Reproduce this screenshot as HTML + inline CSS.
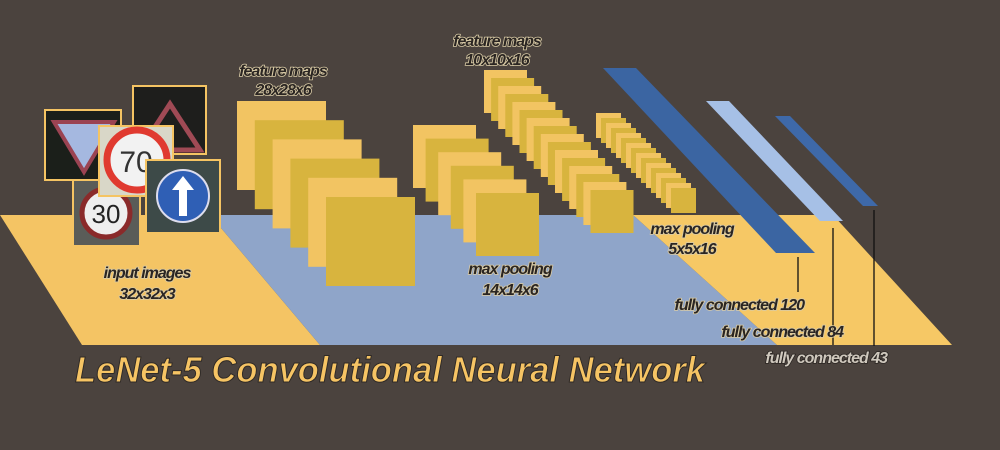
<!DOCTYPE html>
<html><head><meta charset="utf-8"><style>
html,body{margin:0;padding:0;background:#4b433e;}
svg{display:block}
.lbl{font-family:"Liberation Sans",sans-serif;font-style:italic;font-weight:bold;font-size:16px;fill:#2a2522;stroke:#d9cba6;stroke-width:1.6px;paint-order:stroke;letter-spacing:-1px}
</style></head><body>
<svg width="1000" height="450" viewBox="0 0 1000 450">
<rect width="1000" height="450" fill="#4b433e"/>
<polygon points="0,215 210,215 320,345 82,345" fill="#f4c464"/>
<polygon points="210,215 633,215 777,345 320,345" fill="#8fa5c9"/>
<polygon points="633,215 833,215 952,345 777,345" fill="#f6c865"/>
<g id="layers"></g>
<g>
 <g><rect x="133" y="86" width="73" height="68" fill="#1e1e1c" stroke="#f5c463" stroke-width="2"/><polygon points="170,104 200,150 140,150" fill="none" stroke="#a04a55" stroke-width="5"/></g>
 <g><rect x="45" y="110" width="76" height="70" fill="#1b1f1a" stroke="#f5c463" stroke-width="2"/><polygon points="54,122 114,122 84,172" fill="#a5b8e0" stroke="#9b4352" stroke-width="4"/></g>
 <g><rect x="73" y="180" width="67" height="66" fill="#5a5c58" stroke="#f5c463" stroke-width="2"/><circle cx="106" cy="213" r="24" fill="#eee" stroke="#8a2a2a" stroke-width="5"/><text x="106" y="223" font-family="Liberation Sans,sans-serif" font-size="26" text-anchor="middle" fill="#222">30</text></g>
 <g><rect x="99" y="126" width="74" height="70" fill="#d9d7c8" stroke="#f5c463" stroke-width="2"/><circle cx="137" cy="160" r="30" fill="#f2f2f2" stroke="#e03a30" stroke-width="7"/><text x="136" y="172" font-family="Liberation Sans,sans-serif" font-size="30" text-anchor="middle" fill="#333">70</text></g>
 <g><rect x="146" y="160" width="74" height="73" fill="#3d4a48" stroke="#f5c463" stroke-width="2"/><circle cx="183" cy="196" r="26" fill="#2f5fb5" stroke="#dde" stroke-width="2"/><polygon points="183,176 172,190 179,190 179,216 187,216 187,190 194,190" fill="#fff"/></g>
</g>
<g id="fc"></g>
<line x1="798" y1="257" x2="798" y2="292" stroke="#111" stroke-width="1.3"/>
<line x1="833" y1="228" x2="833" y2="345" stroke="#111" stroke-width="1.3"/>
<line x1="874" y1="210" x2="874" y2="346" stroke="#111" stroke-width="1.3"/>
<text class="lbl" x="283" y="76" text-anchor="middle">feature maps</text>
<text class="lbl" x="283" y="95" text-anchor="middle">28x28x6</text>
<text class="lbl" x="497" y="46" text-anchor="middle">feature maps</text>
<text class="lbl" x="497" y="65" text-anchor="middle">10x10x16</text>
<text class="lbl" x="147" y="278" text-anchor="middle">input images</text>
<text class="lbl" x="147" y="299" text-anchor="middle">32x32x3</text>
<text class="lbl" x="510" y="274" text-anchor="middle">max pooling</text>
<text class="lbl" x="510" y="295" text-anchor="middle">14x14x6</text>
<text class="lbl" x="692" y="234" text-anchor="middle">max pooling</text>
<text class="lbl" x="692" y="254" text-anchor="middle">5x5x16</text>
<text class="lbl" x="804" y="310" text-anchor="end">fully connected 120</text>
<text class="lbl" x="843" y="337" text-anchor="end">fully connected 84</text>
<text class="lbl" x="887" y="363" text-anchor="end" style="fill:#cfc8bd;stroke:#2a2522">fully connected 43</text>
<text x="75" y="382" font-family="Liberation Sans,sans-serif" font-style="italic" font-weight="bold" font-size="36" fill="#f6c464" stroke="#2f2a26" stroke-width="1" textLength="630" lengthAdjust="spacingAndGlyphs">LeNet-5 Convolutional Neural Network</text>
</svg>
<script>
// stacks: [x0, y0, size, dx, dy]
const stackNames = ['conv1','pool1','conv2','pool2'];
const stackCounts = [6, 6, 16, 16];
const stackGeom = [[237,101,89,17.8,19.2],[413,125,63,12.6,13.6],[484,70,43,7.1,8],[596,113,25,5,5]];
const g = document.getElementById('layers');
const ns = 'http://www.w3.org/2000/svg';
stackNames.forEach((n, i) => {
  const [x0, y0, s, dx, dy] = stackGeom[i];
  for (let k = 0; k < stackCounts[i]; k++) {
    const r = document.createElementNS(ns, 'rect');
    r.setAttribute('x', x0 + dx * k); r.setAttribute('y', y0 + dy * k);
    r.setAttribute('width', s); r.setAttribute('height', s);
    r.setAttribute('fill', k % 2 ? '#d8b43e' : '#f2c462');
    
    
    g.appendChild(r);
  }
});
const fcNames = ['fc120', 'fc84', 'fc43'];
const fcPts = ['603,68 636,68 815,253 776,253', '706,101 729,101 843,221 820,221', '775,116 790,116 878,206 863,206'];
const fcColors = ['#3b65a2', '#a6c0e6', '#3e69a9'];
const fg = document.getElementById('fc');
fcNames.forEach((n, i) => {
  const p = document.createElementNS(ns, 'polygon');
  p.setAttribute('points', fcPts[i]);
  p.setAttribute('fill', fcColors[i]);
  
  
  fg.appendChild(p);
});
</script>
</body></html>
